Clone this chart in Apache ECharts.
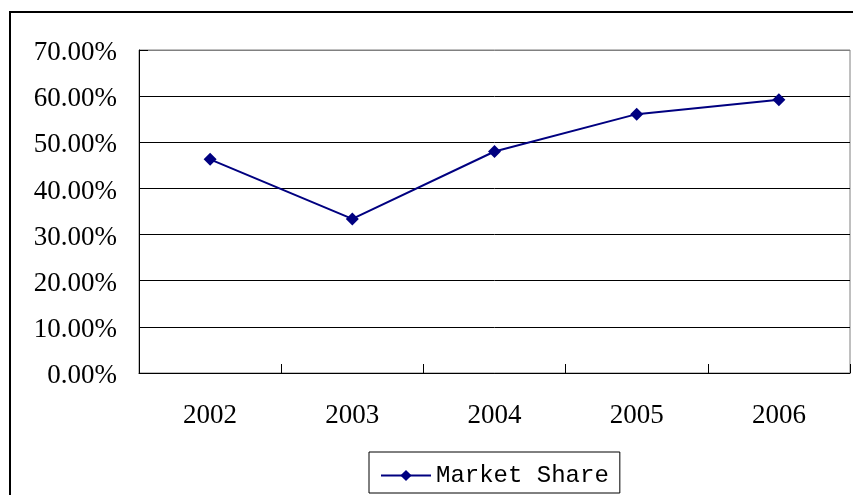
<!DOCTYPE html>
<html>
<head>
<meta charset="utf-8">
<script src="https://cdn.jsdelivr.net/npm/echarts@6/dist/echarts.min.js"></script>
<style>
html,body{margin:0;padding:0;background:#fff;}
#c{width:853px;height:495px;}
</style>
</head>
<body>
<div id="c"></div>
<script>
var categories = ['2002', '2003', '2004', '2005', '2006'];
var marketShare = [46.3, 33.4, 48.0, 56.1, 59.2];
var seriesName = 'Market Share';
var yMin = 0, yMax = 70, yStep = 10;

var chart = echarts.init(document.getElementById('c'), null, {renderer: 'canvas'});
var font = '"Liberation Serif", "DejaVu Serif", serif';
var monoFont = '"Liberation Mono", "DejaVu Sans Mono", monospace';
var splitColors = [];
for (var v = yMin; v <= yMax; v += yStep) splitColors.push(v === yMax ? '#808080' : '#000000');

chart.setOption({
  animation: false,
  backgroundColor: '#ffffff',
  graphic: [{
    type: 'rect',
    shape: {x: 10, y: 12, width: 1000, height: 800},
    style: {fill: 'none', stroke: '#000', lineWidth: 2},
    z: -1
  }],
  grid: {
    left: 139, right: 3, top: 50, bottom: 122,
    show: true, borderColor: '#808080', borderWidth: 1, backgroundColor: 'transparent'
  },
  legend: {
    data: [seriesName],
    left: 369, top: 452,
    orient: 'horizontal',
    padding: [10, 11, 4, 11],
    borderColor: '#000', borderWidth: 1,
    backgroundColor: '#fff',
    itemWidth: 50, itemHeight: 14,
    itemGap: 0,
    textStyle: {fontFamily: monoFont, fontSize: 24, color: '#000', lineHeight: 27, width: 172}
  },
  xAxis: {
    type: 'category',
    data: categories,
    boundaryGap: true,
    axisLine: {show: true, lineStyle: {color: '#000', width: 1}},
    axisTick: {show: true, inside: true, length: 9, lineStyle: {color: '#000'}},
    axisLabel: {fontFamily: font, fontSize: 27, color: '#000', margin: 29},
    splitLine: {show: false}
  },
  yAxis: {
    type: 'value',
    min: yMin, max: yMax, interval: yStep,
    axisLine: {show: true, lineStyle: {color: '#000', width: 1}},
    axisTick: {show: true, inside: true, length: 9, lineStyle: {color: '#000'}},
    axisLabel: {
      fontFamily: font, fontSize: 27, color: '#000', margin: 22,
      verticalAlign: 'top', lineHeight: 6,
      formatter: function (v) { return v.toFixed(2) + '%'; }
    },
    splitLine: {show: true, lineStyle: {color: splitColors, width: 1}}
  },
  series: [{
    name: seriesName,
    type: 'line',
    data: marketShare,
    symbol: 'diamond',
    symbolSize: 13,
    itemStyle: {color: '#000080'},
    lineStyle: {color: '#000080', width: 2}
  }]
});
</script>
</body>
</html>
